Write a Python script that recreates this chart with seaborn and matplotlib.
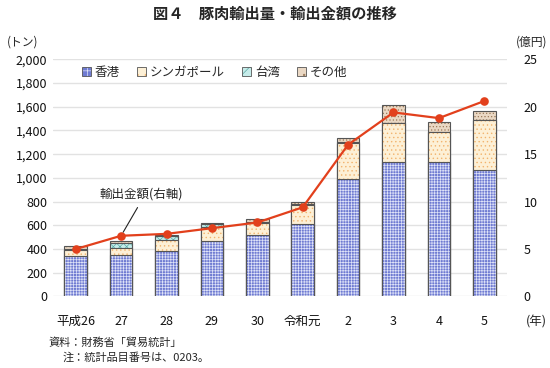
import matplotlib

matplotlib.use("Agg")

import matplotlib.pyplot as plt  # noqa: E402
import matplotlib.patches as mpatches  # noqa: E402
import matplotlib.colors as mcolors  # noqa: E402
import numpy as np  # noqa: E402
import seaborn as sns  # noqa: E402
from matplotlib.ticker import FuncFormatter  # noqa: E402

# ---- data ----
years = ["平成26", "27", "28", "29", "30", "令和元", "2", "3", "4", "5"]
hongkong = [340, 350, 386, 471, 521, 611, 991, 1137, 1131, 1067]
singapore = [52, 56, 88, 118, 101, 162, 306, 323, 253, 421]
taiwan = [11, 48, 39, 20, 6, 5, 8, 2, 2, 2]
others = [20, 11, 8, 8, 28, 22, 29, 153, 83, 77]
amount = [5.0, 6.4, 6.6, 7.2, 7.8, 9.4, 16.0, 19.4, 18.8, 20.6]  # 億円

series = ["香港", "シンガポール", "台湾", "その他"]
# face colour, hatch, hatch colour
styles = {
    "香港": ("#6f7bd2", "++++++", "#dfe3f8"),
    "シンガポール": ("#fdf0d6", "....", "#f2b46e"),
    "台湾": ("#c6ecea", "xxxxx", "#5aa8a4"),
    "その他": ("#ead8c4", ".....", "#9c7a5a"),
}
EDGE = "#555555"
RED = "#e2401c"

sns.set_theme(style="white")
plt.rcParams["font.family"] = ["Noto Sans CJK JP", "DejaVu Sans"]
plt.rcParams["hatch.linewidth"] = 0.5

fig = plt.figure(figsize=(5.5, 3.68), dpi=100)
ax = fig.add_axes([0.0964, 0.1943, 0.8254, 0.6446])

# stacked bars: draw cumulative totals, tallest first
stack = np.cumsum([hongkong, singapore, taiwan, others], axis=0)
for i in range(len(series) - 1, -1, -1):
    face, hatch, hcol = styles[series[i]]
    sns.barplot(x=years, y=stack[i], order=years, color=face, saturation=1,
                width=0.5, errorbar=None, edgecolor=EDGE, linewidth=0.8,
                ax=ax, zorder=2)
    for p in ax.containers[-1]:
        p.set_hatch(hatch)
        p._hatch_color = mcolors.to_rgba(hcol)

ax.set_ylim(0, 2000)
ax.set_yticks(np.arange(0, 2001, 200))
ax.yaxis.set_major_formatter(FuncFormatter(lambda v, _: f"{int(v):,}"))
ax.grid(axis="y", color="#e2e2e2", linewidth=1, zorder=0)
ax.set_axisbelow(True)
for s in ax.spines.values():
    s.set_visible(False)
ax.set_xlabel("")
ax.set_ylabel("")
ax.tick_params(axis="both", length=0, labelsize=9, colors="#111111", pad=4)
ax.tick_params(axis="x", pad=13)

# line on the right axis
ax2 = ax.twinx()
sns.pointplot(x=years, y=amount, order=years, color=RED, markers="o",
              markersize=5, linewidth=1.6, errorbar=None, ax=ax2)
ax2.set_ylim(0, 25)
ax2.set_yticks(np.arange(0, 26, 5))
ax2.set_xlim(-0.5, len(years) - 0.5)
ax.set_xlim(-0.5, len(years) - 0.5)
for s in ax2.spines.values():
    s.set_visible(False)
ax2.grid(False)
ax2.set_ylabel("")
ax2.tick_params(axis="y", length=0, labelsize=9, colors="#111111", pad=12)

ax2.annotate("輸出金額(右軸)", xy=(1, amount[1]), xytext=(1.45, 10.1),
             ha="center", va="bottom", fontsize=9,
             arrowprops=dict(arrowstyle="-", color="#222222", lw=0.8,
                             relpos=(0.5, 0), shrinkA=3, shrinkB=3))

# legend
handles = []
for name in series:
    face, hatch, hcol = styles[name]
    h = mpatches.Patch(facecolor=face, edgecolor=EDGE, hatch=hatch[:2],
                       linewidth=0.6, label=name)
    h._hatch_color = mcolors.to_rgba(hcol)
    handles.append(h)
ax.legend(handles=handles, loc="upper left", bbox_to_anchor=(0.04, 1.02),
          ncol=4, frameon=False, fontsize=9, handlelength=0.7,
          handleheight=0.7, handletextpad=0.3, columnspacing=1.4)

# texts
fig.text(0.5, 0.962, "図４　豚肉輸出量・輸出金額の推移", ha="center",
         va="center", fontsize=11, fontweight="bold")
fig.text(0.012, 0.885, "(トン)", ha="left", va="center", fontsize=8.5)
fig.text(0.995, 0.885, "(億円)", ha="right", va="center", fontsize=8.5)
fig.text(0.995, 0.125, "(年)", ha="right", va="center", fontsize=9)
fig.text(0.088, 0.068, "資料：財務省「貿易統計」", ha="left", va="center",
         fontsize=8)
fig.text(0.113, 0.028, "注：統計品目番号は、0203。", ha="left",
         va="center", fontsize=8)

fig.savefig("out.png", dpi=100)
